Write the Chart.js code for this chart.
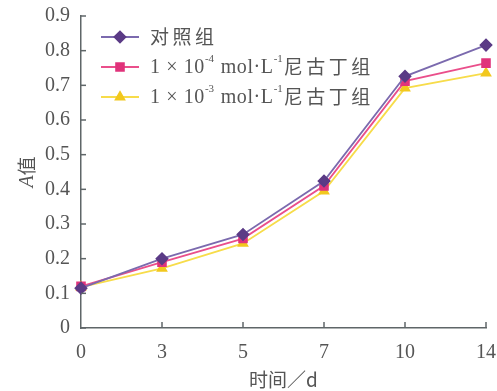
<!DOCTYPE html>
<html><head><meta charset="utf-8">
<script src="https://cdn.jsdelivr.net/npm/chart.js@4.4.1/dist/chart.umd.min.js"></script>
<style>html,body{margin:0;padding:0;background:#fff}canvas{display:block}</style>
</head><body>
<canvas id="c" width="497" height="391"></canvas>
<script>
const categories = ['0','3','5','7','10','14'];
const control = [0.115, 0.200, 0.270, 0.424, 0.726, 0.816];
const low = [0.120, 0.190, 0.258, 0.410, 0.712, 0.764];
const high = [0.118, 0.172, 0.244, 0.395, 0.692, 0.735];
const yTicks = [0,0.1,0.2,0.3,0.4,0.5,0.6,0.7,0.8,0.9];
const seriesNames = ['对照组','1 × 10|-4| mol·L|-1|尼古丁组','1 × 10|-3| mol·L|-1|尼古丁组'];

const SERIF = '"Liberation Serif","DejaVu Serif",serif';
const CJK = '"Noto Sans CJK SC","Liberation Serif",serif';
const AXIS = '#5f6668';

function ds(label, data, line, mark, style, r){
  return {label, data, borderColor: line, backgroundColor: mark, pointBackgroundColor: mark,
    pointBorderColor: mark, pointStyle: style, pointRadius: r, pointHoverRadius: r,
    borderWidth: 1.8, tension: 0, fill: false};
}

const tickPlugin = {
  id: 'inward',
  afterDraw(chart){
    const ctx = chart.ctx, xs = chart.scales.x, ys = chart.scales.y, a = chart.chartArea;
    ctx.save();
    ctx.strokeStyle = AXIS; ctx.lineWidth = 1.5;
    yTicks.forEach(v=>{ const y = ys.getPixelForValue(v); ctx.beginPath(); ctx.moveTo(a.left, y); ctx.lineTo(a.left+5, y); ctx.stroke(); });
    categories.forEach((c,i)=>{ if(i===0) return; const x = xs.getPixelForValue(i); ctx.beginPath(); ctx.moveTo(x, a.bottom); ctx.lineTo(x, a.bottom-6); ctx.stroke(); });
    // y title
    ctx.translate(27, (a.top+a.bottom)/2);
    ctx.rotate(-Math.PI/2);
    ctx.fillStyle = '#555';
    ctx.textBaseline = 'middle';
    ctx.font = 'italic 20px ' + SERIF;
    const wA = ctx.measureText('A').width;
    ctx.font = '19px ' + CJK;
    const wV = ctx.measureText('值').width;
    let x0 = -(wA+wV)/2;
    ctx.font = 'italic 20px ' + SERIF; ctx.textAlign='left';
    ctx.fillText('A', x0, 1);
    ctx.font = '19px ' + CJK;
    ctx.fillText('值', x0+wA, 0);
    ctx.restore();
    // legend
    ctx.save();
    chart.data.datasets.forEach((d,i)=>{
      const y = 37 + i*30;
      ctx.strokeStyle = d.borderColor; ctx.lineWidth = 1.8;
      ctx.beginPath(); ctx.moveTo(101, y); ctx.lineTo(139, y); ctx.stroke();
      ctx.fillStyle = d.pointBackgroundColor;
      ctx.strokeStyle = d.pointBackgroundColor;
      Chart.helpers.drawPoint(ctx, {pointStyle: d.pointStyle, radius: d.pointRadius, borderWidth: 1}, 120, y);
      // text
      let x = 150;
      ctx.fillStyle = '#555'; ctx.textBaseline = 'middle'; ctx.textAlign='left';
      const parts = seriesNames[i].split('|');
      parts.forEach((p,k)=>{
        if(k%2===1){
          ctx.font = '11px ' + SERIF;
          ctx.fillText(p, x, y-8); x += ctx.measureText(p).width + 1;
        } else {
          for(const ch of p){
            const cjk = /[\u4e00-\u9fff]/.test(ch);
            ctx.font = cjk ? '19px ' + CJK : '20px ' + SERIF;
            ctx.fillText(ch, x, y + (cjk?0:1));
            x += ctx.measureText(ch).width + (cjk?3.5:0.6);
          }
        }
      });
    });
    ctx.restore();
  }
};

new Chart(document.getElementById('c'), {
  type: 'line',
  data: { labels: categories, datasets: [
    ds('对照组', control, '#7b6aae', '#5b3b86', 'rectRot', 5.5),
    ds('1×10-4', low, '#ea4f8b', '#e0337b', 'rect', 5.5),
    ds('1×10-3', high, '#f7dc4a', '#f2c81e', 'triangle', 5)
  ]},
  options: {
    responsive: false, animation: false, devicePixelRatio: 1,
    layout: { padding: { top: 16, right: 11, left: 0, bottom: 0 } },
    plugins: { legend: { display: false }, tooltip: { enabled: false } },
    scales: {
      x: { offset: false,
        grid: { display: true, drawOnChartArea: false, drawTicks: false },
        border: { display: true, color: AXIS, width: 1.5 },
        ticks: { color: '#555', font: { family: SERIF, size: 20 }, padding: 13, maxRotation: 0 },
        title: { display: true, text: '时间／d', color: '#555', font: { family: CJK, size: 19 }, padding: { top: 1, bottom: 0 } },
        afterFit(s){ s.height = 63; s.paddingLeft = 0; s.paddingRight = 0; }
      },
      y: { min: 0, max: 0.9,
        grid: { display: true, drawOnChartArea: false, drawTicks: false },
        border: { display: true, color: AXIS, width: 1.5 },
        ticks: { stepSize: 0.1, color: '#555', font: { family: SERIF, size: 20 }, padding: 11,
          callback: v => { const s = (Math.round(v*10)/10).toFixed(1); return s==='0.0' ? '0' : s; } },
        afterFit(s){ s.width = 81; s.paddingTop = 0; s.paddingBottom = 0; }
      }
    }
  },
  plugins: [tickPlugin]
});
</script>
</body></html>
